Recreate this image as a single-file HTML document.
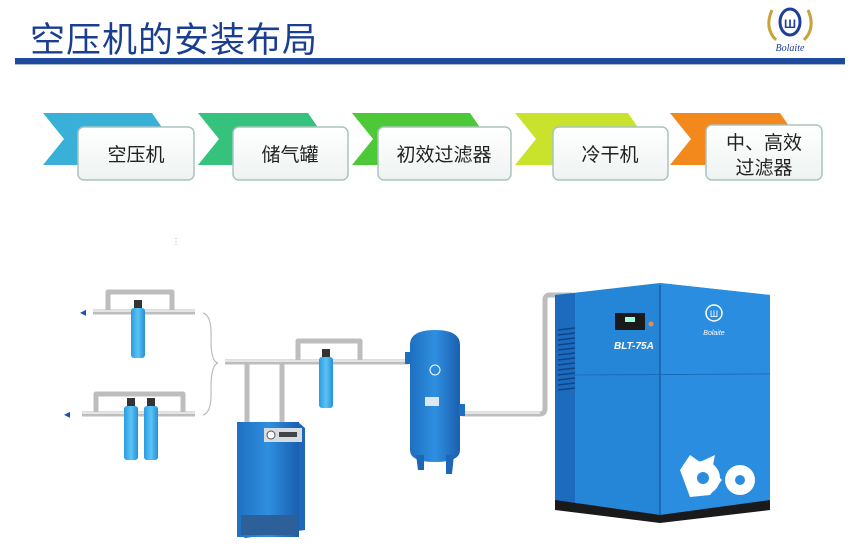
<!DOCTYPE html>
<html><head><meta charset="utf-8"><style>
html,body{margin:0;padding:0;background:#fff;}
svg{display:block}
</style></head><body>
<svg width="850" height="552" viewBox="0 0 850 552" xmlns="http://www.w3.org/2000/svg" font-family="'Liberation Sans','Noto Sans CJK SC',sans-serif">
<defs>
<linearGradient id="bx" x1="0" y1="0" x2="0" y2="1"><stop offset="0" stop-color="#ffffff"/><stop offset="1" stop-color="#eef3f2"/></linearGradient>
<linearGradient id="blu" x1="0" y1="0" x2="1" y2="0"><stop offset="0" stop-color="#1e6fc0"/><stop offset=".5" stop-color="#2f8fe0"/><stop offset="1" stop-color="#1a5fae"/></linearGradient>
<linearGradient id="flt" x1="0" y1="0" x2="1" y2="0"><stop offset="0" stop-color="#2a9be0"/><stop offset=".5" stop-color="#5cc4f5"/><stop offset="1" stop-color="#2590d8"/></linearGradient>
</defs>
<text x="30" y="52" font-size="35" fill="#1b3f8f" letter-spacing="1">空压机的安装布局</text>
<rect x="15" y="58" width="830" height="6" fill="#1d4a9c"/>
<rect x="15" y="64" width="830" height="1" fill="#a8b8d8"/>
<path d="M772 10 Q764 28 776 40" stroke="#c8a23a" stroke-width="3" fill="none"/>
<path d="M808 10 Q816 28 804 40" stroke="#c8a23a" stroke-width="3" fill="none"/>
<ellipse cx="790" cy="22" rx="10" ry="13" fill="#fff" stroke="#1d3f99" stroke-width="3"/>
<text x="790" y="28" font-size="12" font-weight="bold" fill="#1d3f99" text-anchor="middle">Ш</text>
<text x="790" y="51" font-size="10" font-style="italic" font-family="'Liberation Serif',serif" fill="#1d3f99" text-anchor="middle">Bolaite</text>
<g>
<polygon points="43,113 152,113 170,139 152,165 43,165 64,139" fill="#38b0d8"/>
<polygon points="198,113 308,113 326,139 308,165 198,165 219,139" fill="#34c27c"/>
<polygon points="352,113 470,113 488,139 470,165 352,165 373,139" fill="#4dc836"/>
<polygon points="515,113 628,113 646,139 628,165 515,165 536,139" fill="#c9e32c"/>
<polygon points="670,113 780,113 798,139 780,165 670,165 691,139" fill="#f3891c"/>
</g>
<g stroke="#a9c4c0" stroke-width="1.5" fill="url(#bx)">
<rect x="78" y="127" width="116" height="53" rx="6"/>
<rect x="233" y="127" width="115" height="53" rx="6"/>
<rect x="378" y="127" width="133" height="53" rx="6"/>
<rect x="553" y="127" width="115" height="53" rx="6"/>
<rect x="706" y="125" width="116" height="55" rx="6"/>
</g>
<g font-size="19" fill="#222" text-anchor="middle">
<text x="136" y="161">空压机</text>
<text x="290" y="161">储气罐</text>
<text x="444" y="161">初效过滤器</text>
<text x="610" y="161">冷干机</text>
<text x="764" y="149">中、高效</text>
<text x="764" y="174">过滤器</text>
</g>
<text x="172" y="244" font-size="8" fill="#999">⋮</text>
<g fill="none" stroke="#bdbdbd" stroke-width="5" stroke-linejoin="round">
<path d="M93 312 H195"/><path d="M108 312 V292 H172 V312"/>
<path d="M82 414 H195"/><path d="M96 414 V394 H183 V414"/>
<path d="M225 362 H408"/><path d="M298 362 V341 H360 V362"/>
<path d="M247 362 V422"/><path d="M282 362 V422"/>
<path d="M462 414 H540 Q545 414 545 408 V300 Q545 295 550 295 H572"/>
</g>
<g fill="none" stroke="#f2f2f2" stroke-width="1.5">
<path d="M93 311 H195"/><path d="M82 413 H195"/><path d="M225 361 H408"/><path d="M462 413 H540"/>
</g>
<text x="80" y="316" font-size="12" fill="#1f4fb0">◂</text>
<text x="64" y="418" font-size="12" fill="#1f4fb0">◂</text>
<path d="M203 313 Q212 315 211 340 Q211 362 218 363 Q211 365 211 388 Q212 413 203 415" fill="none" stroke="#bbb" stroke-width="1.2"/>
<g fill="url(#flt)">
<rect x="131" y="308" width="14" height="50" rx="3"/>
<rect x="124" y="406" width="14" height="54" rx="3"/>
<rect x="144" y="406" width="14" height="54" rx="3"/>
<rect x="319" y="357" width="14" height="51" rx="3"/>
</g>
<g fill="#333"><rect x="134" y="300" width="8" height="8"/><rect x="127" y="398" width="8" height="8"/><rect x="147" y="398" width="8" height="8"/><rect x="322" y="349" width="8" height="8"/></g>
<polygon points="237,422 298,422 305,428 305,530 245,538 237,532" fill="#1e66b8"/>
<rect x="237" y="422" width="62" height="115" fill="url(#blu)"/>
<rect x="264" y="428" width="38" height="14" fill="#d6dce3"/>
<circle cx="271" cy="435" r="4" fill="#fff" stroke="#555"/>
<rect x="279" y="432" width="18" height="5" fill="#444"/>
<rect x="241" y="515" width="56" height="20" fill="#2d5f98"/>
<path d="M410 345 Q410 330 435 330 Q460 330 460 345 V450 Q460 462 435 462 Q410 462 410 450 Z" fill="url(#blu)"/>
<rect x="405" y="352" width="6" height="12" fill="#1f6fc0"/>
<rect x="459" y="404" width="6" height="12" fill="#1f6fc0"/>
<polygon points="416,455 424,455 424,470 418,470" fill="#1e66b8"/>
<polygon points="446,455 454,455 452,474 446,474" fill="#1e66b8"/>
<rect x="425" y="397" width="14" height="9" fill="#dfe8f2"/>
<circle cx="435" cy="370" r="5" fill="none" stroke="#fff"/>
<polygon points="555,295 660,283 770,295 770,505 660,520 555,505" fill="#2585d6"/>
<polygon points="660,283 770,295 770,505 660,518" fill="#2a8ddf"/>
<line x1="660" y1="285" x2="660" y2="515" stroke="#1a5ea8" stroke-width="1.5"/>
<polygon points="555,295 575,293 575,508 555,505" fill="#1c6bbe"/>
<g stroke="#0f4586" stroke-width="1.5">
<line x1="558" y1="330" x2="575" y2="328"/><line x1="558" y1="335" x2="575" y2="333"/><line x1="558" y1="340" x2="575" y2="338"/><line x1="558" y1="345" x2="575" y2="343"/><line x1="558" y1="350" x2="575" y2="348"/><line x1="558" y1="355" x2="575" y2="353"/><line x1="558" y1="360" x2="575" y2="358"/><line x1="558" y1="365" x2="575" y2="363"/><line x1="558" y1="370" x2="575" y2="368"/><line x1="558" y1="375" x2="575" y2="373"/><line x1="558" y1="380" x2="575" y2="378"/><line x1="558" y1="385" x2="575" y2="383"/><line x1="558" y1="390" x2="575" y2="388"/>
</g>
<polygon points="555,500 660,515 770,500 770,510 660,523 555,510" fill="#1a1a1a"/>
<rect x="615" y="313" width="30" height="17" fill="#1a1a1a"/>
<rect x="625" y="317" width="10" height="5" fill="#9fd"/>
<circle cx="651" cy="324" r="2.5" fill="#e85"/>
<text x="614" y="349" font-size="10" font-weight="bold" font-style="italic" fill="#fff">BLT-75A</text>
<line x1="575" y1="375" x2="770" y2="374" stroke="#1b66b5" stroke-width=".8"/>
<circle cx="714" cy="313" r="8" fill="none" stroke="#fff" stroke-width="1.5"/>
<text x="714" y="317" font-size="9" fill="#fff" text-anchor="middle">Ш</text>
<text x="714" y="335" font-size="7" font-style="italic" fill="#fff" text-anchor="middle">Bolaite</text>
<g fill="#fff">
<circle cx="703" cy="478" r="17"/><circle cx="740" cy="480" r="15"/>
<polygon points="680,470 690,455 700,462 715,455 712,470 722,480 710,495 690,497"/>
</g>
<circle cx="703" cy="478" r="6" fill="#2a8ddf"/><circle cx="740" cy="480" r="5" fill="#2a8ddf"/>
</svg>
</body></html>
